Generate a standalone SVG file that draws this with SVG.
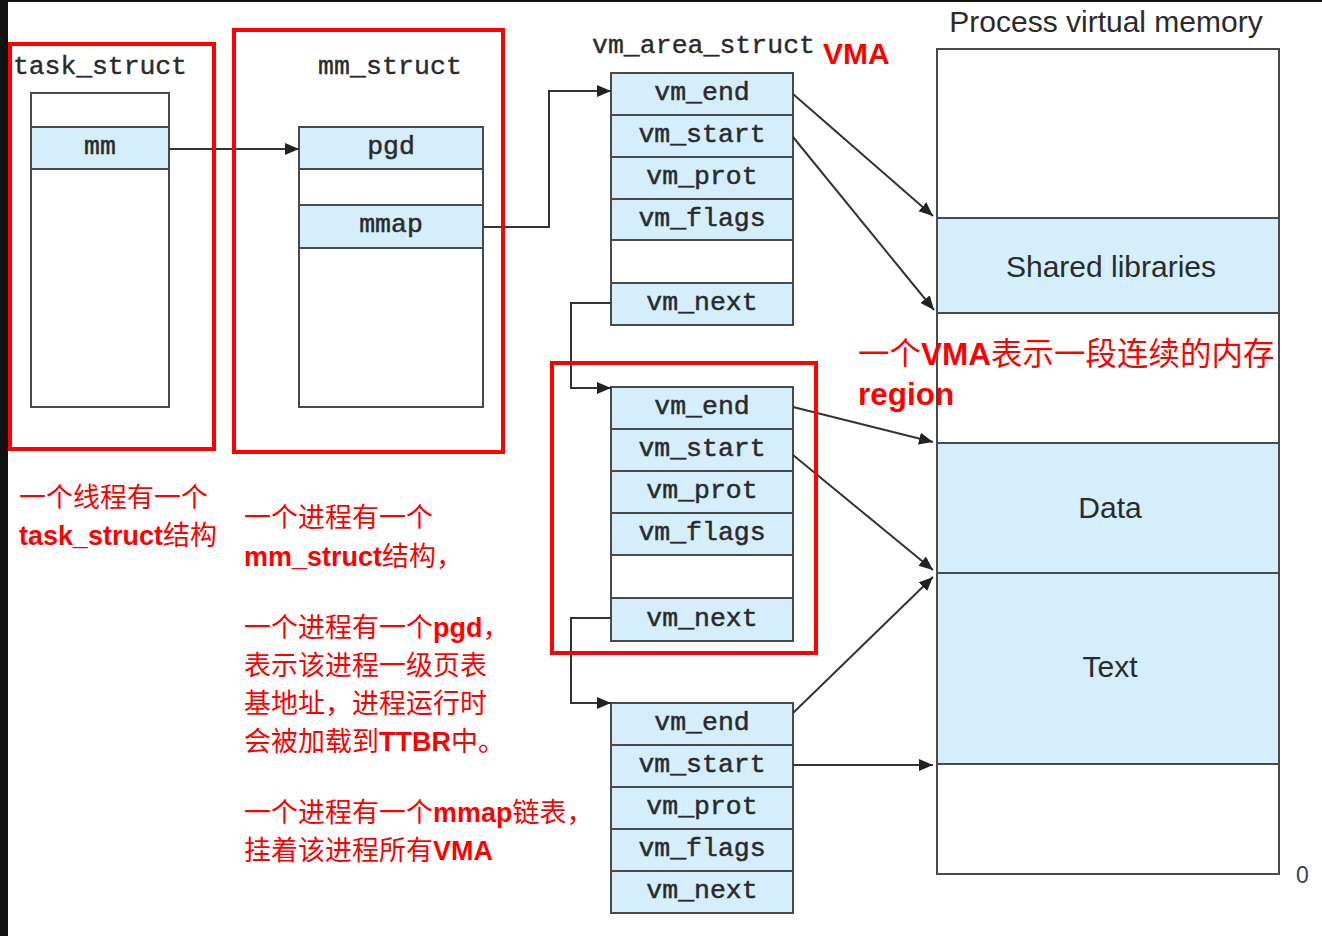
<svg xmlns="http://www.w3.org/2000/svg" width="1322" height="936" viewBox="0 0 1322 936">
<defs>
<style>
.tt{font-family:"Liberation Mono","Courier New",monospace;font-size:26.5px;fill:#2b2b2b;stroke:#2b2b2b;stroke-width:0.5px;text-anchor:middle}
.lbl{font-family:"Liberation Mono","Courier New",monospace;font-size:26.5px;fill:#2b2b2b;stroke:#2b2b2b;stroke-width:0.4px}
.cell{stroke:#4a4a4a;stroke-width:2}
.b{fill:#d4eefc}
.w{fill:#ffffff}
.red{fill:none;stroke:#ff0000;stroke-width:4}
.note{font-family:"Liberation Sans","Noto Sans CJK SC",sans-serif;font-size:27px;fill:#ff0000}
.big{font-size:31.5px}
.bold{font-weight:bold}
.sans{font-family:"Liberation Sans",Arial,sans-serif;font-size:30px;fill:#2b2b2b;text-anchor:middle}
.conn{fill:none;stroke:#333333;stroke-width:2}
</style>
<marker id="arr" markerUnits="userSpaceOnUse" markerWidth="16" markerHeight="14" refX="14" refY="6" orient="auto">
<path d="M0,0 L14,6 L0,12 z" fill="#222222"/>
</marker>
</defs>
<rect x="0" y="0" width="1322" height="936" fill="#ffffff"/>
<rect x="0" y="0" width="1322" height="2" fill="#111111"/>
<rect x="0" y="0" width="8" height="936" fill="#111111"/>

<g id="task_struct">
<text class="lbl" x="13" y="74" textLength="174">task_struct</text>
<rect class="cell w" x="31" y="93" width="138" height="314"/>
<rect class="cell b" x="31" y="127" width="138" height="42"/>
<text class="tt" x="100" y="154">mm</text>
</g>

<g id="mm_struct">
<text class="lbl" x="318" y="74" textLength="144">mm_struct</text>
<rect class="cell w" x="299" y="127" width="184" height="280"/>
<rect class="cell b" x="299" y="127" width="184" height="42"/>
<text class="tt" x="391" y="154">pgd</text>
<rect class="cell b" x="299" y="205" width="184" height="43"/>
<text class="tt" x="391" y="232">mmap</text>
</g>

<g id="vma1">
<text class="lbl" x="592" y="53" textLength="223">vm_area_struct</text>
<text x="823" y="64" font-family="Liberation Sans,Arial,sans-serif" font-size="30" font-weight="bold" fill="#ff0000">VMA</text>
<rect class="cell b" x="611" y="73" width="182" height="42"/>
<rect class="cell b" x="611" y="115" width="182" height="42"/>
<rect class="cell b" x="611" y="157" width="182" height="42"/>
<rect class="cell b" x="611" y="199" width="182" height="41"/>
<rect class="cell w" x="611" y="240" width="182" height="43"/>
<rect class="cell b" x="611" y="283" width="182" height="42"/>
<text class="tt" x="702" y="100">vm_end</text>
<text class="tt" x="702" y="142">vm_start</text>
<text class="tt" x="702" y="184">vm_prot</text>
<text class="tt" x="702" y="226">vm_flags</text>
<text class="tt" x="702" y="310">vm_next</text>
</g>

<g id="vma2">
<rect class="cell b" x="611" y="387" width="182" height="42"/>
<rect class="cell b" x="611" y="429" width="182" height="42"/>
<rect class="cell b" x="611" y="471" width="182" height="42"/>
<rect class="cell b" x="611" y="513" width="182" height="42"/>
<rect class="cell w" x="611" y="555" width="182" height="43"/>
<rect class="cell b" x="611" y="598" width="182" height="43"/>
<text class="tt" x="702" y="414">vm_end</text>
<text class="tt" x="702" y="456">vm_start</text>
<text class="tt" x="702" y="498">vm_prot</text>
<text class="tt" x="702" y="540">vm_flags</text>
<text class="tt" x="702" y="626">vm_next</text>
</g>

<g id="vma3">
<rect class="cell b" x="611" y="703" width="182" height="42"/>
<rect class="cell b" x="611" y="745" width="182" height="42"/>
<rect class="cell b" x="611" y="787" width="182" height="42"/>
<rect class="cell b" x="611" y="829" width="182" height="42"/>
<rect class="cell b" x="611" y="871" width="182" height="42"/>
<text class="tt" x="702" y="730">vm_end</text>
<text class="tt" x="702" y="772">vm_start</text>
<text class="tt" x="702" y="814">vm_prot</text>
<text class="tt" x="702" y="856">vm_flags</text>
<text class="tt" x="702" y="898">vm_next</text>
</g>

<g id="process_memory">
<text class="sans" x="1106" y="32">Process virtual memory</text>
<rect class="cell w" x="937" y="49" width="342" height="825"/>
<rect class="cell b" x="937" y="218" width="342" height="95"/>
<rect class="cell b" x="937" y="443" width="342" height="130"/>
<rect class="cell b" x="937" y="573" width="342" height="191"/>
<text class="sans" x="1111" y="277">Shared libraries</text>
<text class="sans" x="1110" y="518">Data</text>
<text class="sans" x="1110" y="677">Text</text>
<text x="1296" y="883" font-family="Liberation Sans,Arial,sans-serif" font-size="23" fill="#3a4350">0</text>
</g>

<g id="connectors">
<path class="conn" d="M169,149 H299" marker-end="url(#arr)"/>
<path class="conn" d="M483,227 H549 V91 H611" marker-end="url(#arr)"/>
<path class="conn" d="M611,303 H571 V388 H611" marker-end="url(#arr)"/>
<path class="conn" d="M611,618 H571 V703 H611" marker-end="url(#arr)"/>
<path class="conn" d="M793,94 L933,216" marker-end="url(#arr)"/>
<path class="conn" d="M793,137 L934,310" marker-end="url(#arr)"/>
<path class="conn" d="M793,407 L933,442" marker-end="url(#arr)"/>
<path class="conn" d="M793,455 L933,570" marker-end="url(#arr)"/>
<path class="conn" d="M793,713 L933,577" marker-end="url(#arr)"/>
<path class="conn" d="M793,765 L933,765" marker-end="url(#arr)"/>
</g>

<g id="annotations">
<rect class="red" x="10" y="44" width="204" height="405"/>
<rect class="red" x="234" y="30" width="269" height="422"/>
<rect class="red" x="552" y="363" width="264" height="290"/>
<text class="note big" x="858" y="365">一个<tspan class="bold">VMA</tspan>表示一段连续的内存</text>
<text class="note big bold" x="858" y="405">region</text>
<text class="note" x="19" y="507">一个线程有一个</text>
<text class="note" x="19" y="545"><tspan class="bold">task_struct</tspan>结构</text>
<text class="note" x="244" y="527">一个进程有一个</text>
<text class="note" x="244" y="566"><tspan class="bold">mm_struct</tspan>结构，</text>
<text class="note" x="244" y="637">一个进程有一个<tspan class="bold">pgd</tspan>，</text>
<text class="note" x="244" y="675">表示该进程一级页表</text>
<text class="note" x="244" y="713">基地址，进程运行时</text>
<text class="note" x="244" y="751">会被加载到<tspan class="bold">TTBR</tspan>中。</text>
<text class="note" x="244" y="822">一个进程有一个<tspan class="bold">mmap</tspan>链表，</text>
<text class="note" x="244" y="860">挂着该进程所有<tspan class="bold">VMA</tspan></text>
</g>
</svg>
